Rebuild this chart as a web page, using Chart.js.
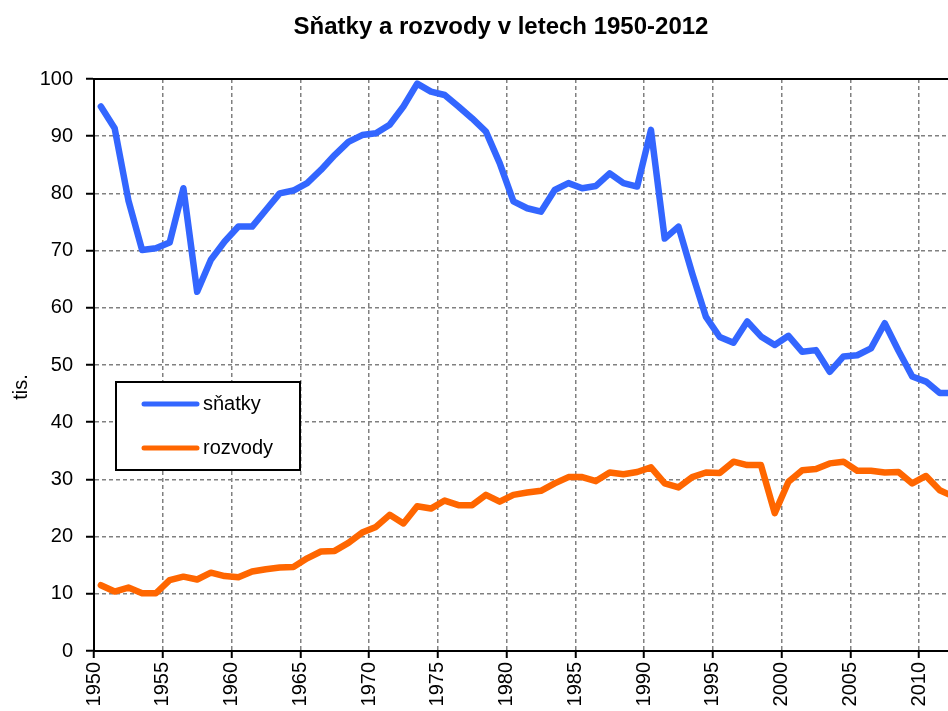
<!DOCTYPE html>
<html>
<head>
<meta charset="utf-8">
<script src="https://cdn.jsdelivr.net/npm/chart.js@4.4.0/dist/chart.umd.min.js"></script>
<style>
    html, body { margin: 0; padding: 0; background: #fff; }
    #wrap { width: 948px; height: 711px; }
</style>
</head>
<body>
<div id="wrap"><canvas id="chart" width="948" height="711"></canvas></div>
<script>
    const chartTitle = "Sňatky a rozvody v letech 1950-2012";
    const yTitle = "tis.";

    const years = [
        1950, 1951, 1952, 1953, 1954, 1955, 1956, 1957, 1958, 1959,
        1960, 1961, 1962, 1963, 1964, 1965, 1966, 1967, 1968, 1969,
        1970, 1971, 1972, 1973, 1974, 1975, 1976, 1977, 1978, 1979,
        1980, 1981, 1982, 1983, 1984, 1985, 1986, 1987, 1988, 1989,
        1990, 1991, 1992, 1993, 1994, 1995, 1996, 1997, 1998, 1999,
        2000, 2001, 2002, 2003, 2004, 2005, 2006, 2007, 2008, 2009,
        2010, 2011, 2012
    ];

    // thousands
    const snatky = [
        95.2, 91.4, 78.8, 70.1, 70.4, 71.4, 80.9, 62.8, 68.4, 71.6,
        74.2, 74.2, 77.1, 80.0, 80.5, 81.8, 84.1, 86.7, 89.0, 90.2,
        90.5, 92.0, 95.2, 99.2, 97.8, 97.2, 95.2, 93.1, 90.8, 85.3,
        78.6, 77.4, 76.8, 80.6, 81.8, 80.9, 81.3, 83.5, 81.8, 81.2,
        91.1, 72.1, 74.2, 66.0, 58.4, 54.9, 53.9, 57.6, 55.0, 53.5,
        55.1, 52.3, 52.6, 48.8, 51.5, 51.7, 52.9, 57.3, 52.5, 48.0,
        47.1, 45.1, 45.1
    ];

    const rozvody = [
        11.5, 10.4, 11.1, 10.1, 10.1, 12.4, 13.0, 12.5, 13.7, 13.1,
        12.9, 13.9, 14.3, 14.6, 14.7, 16.2, 17.4, 17.5, 18.9, 20.7,
        21.7, 23.8, 22.3, 25.3, 24.9, 26.3, 25.5, 25.5, 27.3, 26.1,
        27.3, 27.7, 28.0, 29.3, 30.4, 30.4, 29.7, 31.2, 30.9, 31.3,
        32.1, 29.3, 28.6, 30.4, 31.2, 31.1, 33.1, 32.5, 32.5, 24.1,
        29.6, 31.6, 31.8, 32.8, 33.1, 31.5, 31.5, 31.2, 31.3, 29.3,
        30.6, 28.1, 27.0
    ];

    const FONT = "'Liberation Sans', Arial, sans-serif";

    // each yearly value sits in the middle of its year
    function toPoints(values) {
        return values.map((v, i) => ({ x: years[i] + 0.5, y: v }));
    }

    // title, y axis caption, top border and the boxed legend
    const decorations = {
        id: "decorations",
        afterDraw(chart) {
            const ctx = chart.ctx;
            const area = chart.chartArea;
            ctx.save();

            ctx.strokeStyle = "#000";
            ctx.lineWidth = 2;
            ctx.beginPath();
            ctx.moveTo(area.left, area.top);
            ctx.lineTo(area.right, area.top);
            ctx.stroke();

            ctx.fillStyle = "#000";
            ctx.font = "bold 24px " + FONT;
            ctx.textAlign = "center";
            ctx.textBaseline = "alphabetic";
            ctx.fillText(chartTitle, 501, 34);

            ctx.font = "20px " + FONT;
            ctx.translate(21, 387);
            ctx.rotate(-Math.PI / 2);
            ctx.textBaseline = "middle";
            ctx.fillText(yTitle, 0, 0);
            ctx.setTransform(1, 0, 0, 1, 0, 0);

            // legend
            ctx.fillStyle = "#fff";
            ctx.fillRect(116, 382, 184, 88);
            ctx.strokeStyle = "#000";
            ctx.lineWidth = 2;
            ctx.strokeRect(116, 382, 184, 88);

            const rows = [404, 448];
            chart.data.datasets.forEach((ds, i) => {
                const y = rows[i];
                ctx.strokeStyle = ds.borderColor;
                ctx.lineWidth = 5;
                ctx.lineCap = "round";
                ctx.beginPath();
                ctx.moveTo(144, y);
                ctx.lineTo(197, y);
                ctx.stroke();
                ctx.fillStyle = "#000";
                ctx.font = "20px " + FONT;
                ctx.textAlign = "left";
                ctx.textBaseline = "middle";
                ctx.fillText(ds.label, 203, y);
            });

            ctx.restore();
        }
    };

    const ctx = document.getElementById("chart").getContext("2d");

    new Chart(ctx, {
        type: "line",
        data: {
            datasets: [{
                label: "sňatky",
                data: toPoints(snatky),
                borderColor: "#3366ff",
                backgroundColor: "#3366ff",
                borderWidth: 6.5,
                pointRadius: 0,
                tension: 0,
                clip: 0,
                borderJoinStyle: "round",
                borderCapStyle: "round"
            }, {
                label: "rozvody",
                data: toPoints(rozvody),
                borderColor: "#ff6600",
                backgroundColor: "#ff6600",
                borderWidth: 6.5,
                pointRadius: 0,
                tension: 0,
                clip: 0,
                borderJoinStyle: "round",
                borderCapStyle: "round"
            }]
        },
        options: {
            responsive: false,
            animation: false,
            layout: { padding: { top: 79, right: 0, bottom: 0, left: 0 } },
            plugins: {
                legend: { display: false },
                title: { display: false },
                tooltip: { enabled: false }
            },
            scales: {
                x: {
                    type: "linear",
                    min: 1950,
                    max: 2012.1,
                    afterFit(scale) { scale.height = 60; },
                    afterBuildTicks(scale) {
                        scale.ticks = scale.ticks.filter(t => t.value % 5 === 0);
                    },
                    border: { display: true, color: "#000", width: 2, dash: [4, 3] },
                    grid: {
                        color: "#808080",
                        lineWidth: 1.5,
                        tickColor: "#000",
                        tickWidth: 2,
                        tickLength: 7,
                        tickBorderDash: []
                    },
                    ticks: {
                        stepSize: 5,
                        autoSkip: false,
                        minRotation: 90,
                        maxRotation: 90,
                        padding: 4,
                        color: "#000",
                        font: { family: FONT, size: 20 },
                        callback: v => String(v)
                    }
                },
                y: {
                    min: 0,
                    max: 100,
                    afterFit(scale) { scale.width = 94; },
                    border: { display: true, color: "#000", width: 2, dash: [4, 3] },
                    grid: {
                        color: "#808080",
                        lineWidth: 1.5,
                        tickColor: "#000",
                        tickWidth: 2,
                        tickLength: 8,
                        tickBorderDash: []
                    },
                    ticks: {
                        stepSize: 10,
                        padding: 13,
                        color: "#000",
                        font: { family: FONT, size: 20 }
                    }
                }
            }
        },
        plugins: [decorations]
    });
</script>
</body>
</html>
